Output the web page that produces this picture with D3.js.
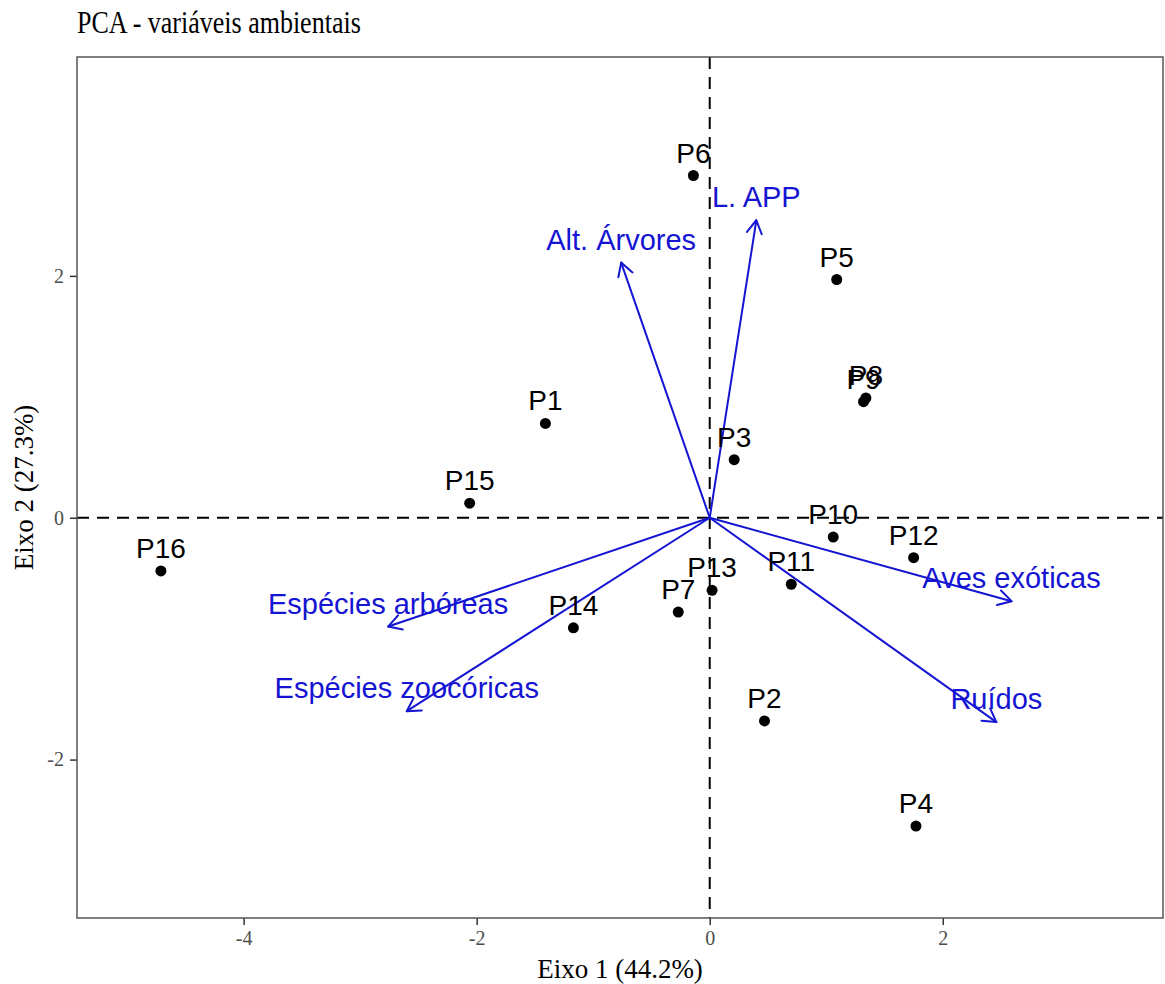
<!DOCTYPE html>
<html><head><meta charset="utf-8">
<script src="https://cdn.jsdelivr.net/npm/d3@7"></script>
<style>body{margin:0;background:#fff;}</style>
</head><body>
<script>
const siteNames = ["P1","P2","P3","P4","P5","P6","P7","P8","P9","P10","P11","P12","P13","P14","P15","P16"];
const siteX = [-1.41, 0.47, 0.21, 1.77, 1.09, -0.14, -0.27, 1.34, 1.32, 1.06, 0.70, 1.75, 0.02, -1.17, -2.06, -4.71];
const siteY = [0.78, -1.68, 0.48, -2.55, 1.97, 2.83, -0.78, 0.99, 0.96, -0.16, -0.55, -0.33, -0.60, -0.91, 0.12, -0.44];
const varNames = ["L. APP","Alt. Árvores","Aves exóticas","Ruídos","Espécies arbóreas","Espécies zoocóricas"];
const varX = [0.40, -0.76, 2.59, 2.46, -2.76, -2.60];
const varY = [2.46, 2.11, -0.69, -1.69, -0.90, -1.60];
const xTicks = [-4, -2, 0, 2];
const yTicks = [-2, 0, 2];
const xDomain = [-5.43, 3.89];
const yDomain = [-3.31, 3.81];
const title = "PCA - variáveis ambientais";
const xTitle = "Eixo 1 (44.2%)";
const yTitle = "Eixo 2 (27.3%)";

const W = 1165, H = 984;
const m = {l:77, t:57, r:1163, b:918};
const serif = "Liberation Serif, Times New Roman, serif";
const sans = "Liberation Sans, Arial, sans-serif";
const svg = d3.select("body").append("svg").attr("width", W).attr("height", H);
const x = d3.scaleLinear().domain(xDomain).range([m.l, m.r]);
const y = d3.scaleLinear().domain(yDomain).range([m.b, m.t]);

svg.append("text").attr("transform", "translate(77,33) scale(1,1.22)").attr("font-family", serif)
  .attr("font-size", 26).attr("fill","#000").text(title);

// axes
const fmt = d => String(d);
const xa = svg.append("g").attr("transform", `translate(0,${m.b})`)
  .call(d3.axisBottom(x).tickValues(xTicks).tickSize(7).tickPadding(6).tickFormat(fmt));
const ya = svg.append("g").attr("transform", `translate(${m.l},0)`)
  .call(d3.axisLeft(y).tickValues(yTicks).tickSize(7).tickPadding(6).tickFormat(fmt));
[xa, ya].forEach(a => {
  a.select(".domain").remove();
  a.selectAll(".tick line").attr("stroke","#333").attr("stroke-width",1.5);
  a.selectAll(".tick text").attr("font-family", serif)
    .attr("font-size",20).attr("fill","#4d4d4d");
});

// reference lines
const dash = "12 8";
svg.append("line").attr("x1", x(0)).attr("x2", x(0)).attr("y1", m.t).attr("y2", m.b)
  .attr("stroke","#000").attr("stroke-width",2).attr("stroke-dasharray",dash);
svg.append("line").attr("x1", m.l).attr("x2", m.r).attr("y1", y(0)).attr("y2", y(0))
  .attr("stroke","#000").attr("stroke-width",2).attr("stroke-dasharray",dash);

// border
svg.append("rect").attr("x", m.l).attr("y", m.t).attr("width", m.r-m.l).attr("height", m.b-m.t)
  .attr("fill","none").attr("stroke","#555").attr("stroke-width",1.5);

// arrows
const blue = "#1414d2";
const ag = svg.append("g");
varNames.forEach((n,i) => {
  const x0 = x(0), y0 = y(0), x1 = x(varX[i]), y1 = y(varY[i]);
  ag.append("line").attr("x1",x0).attr("y1",y0).attr("x2",x1).attr("y2",y1)
    .attr("stroke",blue).attr("stroke-width",2);
  const ang = Math.atan2(y1-y0, x1-x0);
  const L = 15, a = Math.PI/6;
  [ang+Math.PI-a, ang+Math.PI+a].forEach(t => {
    ag.append("line").attr("x1",x1).attr("y1",y1)
      .attr("x2",x1+L*Math.cos(t)).attr("y2",y1+L*Math.sin(t))
      .attr("stroke",blue).attr("stroke-width",2).attr("stroke-linecap","round");
  });
});

// points
const pg = svg.append("g");
siteNames.forEach((n,i) => {
  pg.append("circle").attr("cx", x(siteX[i])).attr("cy", y(siteY[i])).attr("r",5.5).attr("fill","#000");
});
siteNames.forEach((n,i) => {
  pg.append("text").attr("x", x(siteX[i])).attr("y", y(siteY[i]) - 13)
    .attr("text-anchor","middle").attr("font-family", sans)
    .attr("font-size",28).attr("fill","#000").text(n);
});
varNames.forEach((n,i) => {
  ag.append("text").attr("x", x(varX[i])).attr("y", y(varY[i]) - 13)
    .attr("text-anchor","middle").attr("font-family", sans)
    .attr("font-size",29).attr("fill",blue).text(n);
});

// axis titles
const cx = (m.l + m.r) / 2, cy = (m.t + m.b) / 2;
svg.append("text").attr("x", cx).attr("y", 978).attr("text-anchor","middle")
  .attr("font-family", serif).attr("font-size",27).attr("fill","#000").text(xTitle);
svg.append("text").attr("transform", `translate(33,${cy}) rotate(-90)`).attr("text-anchor","middle")
  .attr("font-family", serif).attr("font-size",27).attr("fill","#000").text(yTitle);
</script>
</body></html>
